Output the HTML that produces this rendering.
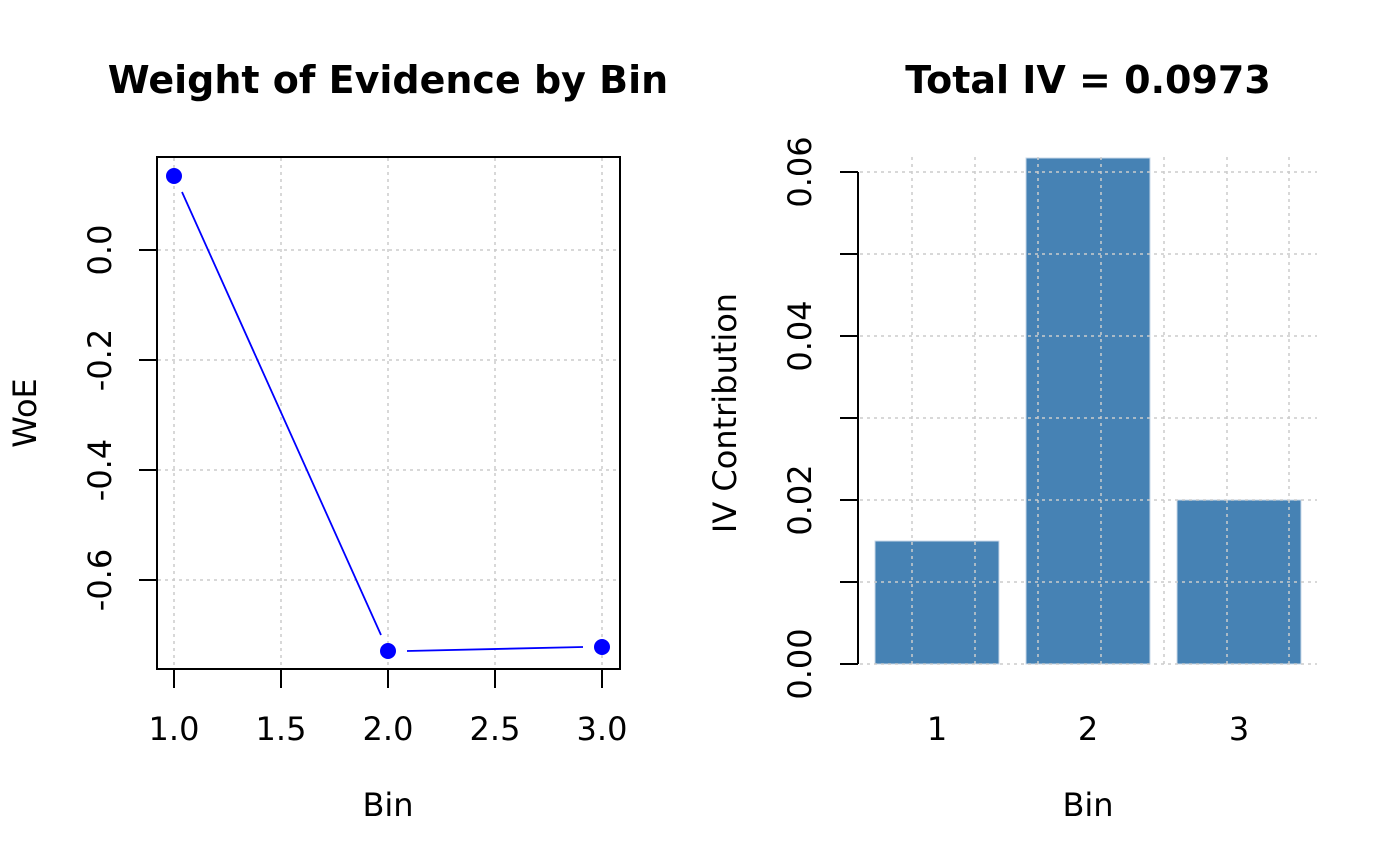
<!DOCTYPE html>
<html><head><style>body{margin:0;background:#fff}svg{display:block}
text{font-family:"DejaVu Sans","Liberation Sans",sans-serif;font-size:32px;fill:#000}
text.t{font-size:38px;font-weight:bold}</style></head>
<body>
<svg width="1400" height="866" viewBox="0 0 1400 866">
<text class="t" x="388" y="93" text-anchor="middle">Weight of Evidence by Bin</text>
<text class="t" x="1088" y="93" text-anchor="middle">Total IV = 0.0973</text>
<g stroke="#ccc" stroke-width="1.5" stroke-dasharray="3,4">
<line x1="174" y1="158" x2="174" y2="668"/><line x1="281" y1="158" x2="281" y2="668"/><line x1="388" y1="158" x2="388" y2="668"/><line x1="495" y1="158" x2="495" y2="668"/><line x1="602" y1="158" x2="602" y2="668"/>
<line x1="158" y1="250" x2="619" y2="250"/><line x1="158" y1="360" x2="619" y2="360"/><line x1="158" y1="470" x2="619" y2="470"/><line x1="158" y1="580" x2="619" y2="580"/>
</g>
<g stroke="#00f" stroke-width="1.8">
<line x1="182" y1="192" x2="381" y2="635"/><line x1="407" y1="651" x2="583" y2="647"/>
</g>
<g fill="#00f"><circle cx="174" cy="176" r="8"/><circle cx="388" cy="651" r="8"/><circle cx="602" cy="647" r="8"/></g>
<rect x="157" y="157" width="463" height="512" fill="none" stroke="#000" stroke-width="2"/>
<g stroke="#000" stroke-width="2">
<line x1="174" y1="669" x2="174" y2="688"/><line x1="281" y1="669" x2="281" y2="688"/><line x1="388" y1="669" x2="388" y2="688"/><line x1="495" y1="669" x2="495" y2="688"/><line x1="602" y1="669" x2="602" y2="688"/>
<line x1="157" y1="250" x2="139" y2="250"/><line x1="157" y1="360" x2="139" y2="360"/><line x1="157" y1="470" x2="139" y2="470"/><line x1="157" y1="580" x2="139" y2="580"/>
</g>
<g text-anchor="middle">
<text x="174" y="740">1.0</text><text x="281" y="740">1.5</text><text x="388" y="740">2.0</text><text x="495" y="740">2.5</text><text x="602" y="740">3.0</text>
<text transform="translate(111,250) rotate(-90)">0.0</text>
<text transform="translate(111,360) rotate(-90)">-0.2</text>
<text transform="translate(111,470) rotate(-90)">-0.4</text>
<text transform="translate(111,580) rotate(-90)">-0.6</text>
<text x="388" y="816">Bin</text>
<text transform="translate(36,413) rotate(-90)">WoE</text>
<text x="1088" y="816">Bin</text>
<text transform="translate(736,413) rotate(-90)">IV Contribution</text>
<text x="937" y="740">1</text><text x="1088" y="740">2</text><text x="1239" y="740">3</text>
<text transform="translate(811,664) rotate(-90)">0.00</text>
<text transform="translate(811,500) rotate(-90)">0.02</text>
<text transform="translate(811,336) rotate(-90)">0.04</text>
<text transform="translate(811,172) rotate(-90)">0.06</text>
</g>
<g fill="#4682B4" stroke="#c8d8e8" stroke-width="1">
<rect x="875" y="541" width="124" height="123"/><rect x="1026" y="158" width="124" height="506"/><rect x="1177" y="500" width="124" height="164"/>
</g>
<g stroke="#ccc" stroke-width="1.5" stroke-dasharray="3,4">
<line x1="912" y1="157" x2="912" y2="665"/><line x1="975" y1="157" x2="975" y2="665"/><line x1="1038" y1="157" x2="1038" y2="665"/><line x1="1101" y1="157" x2="1101" y2="665"/><line x1="1164" y1="157" x2="1164" y2="665"/><line x1="1227" y1="157" x2="1227" y2="665"/><line x1="1289" y1="157" x2="1289" y2="665"/>
<line x1="860" y1="172" x2="1317" y2="172"/><line x1="860" y1="254" x2="1317" y2="254"/><line x1="860" y1="336" x2="1317" y2="336"/><line x1="860" y1="418" x2="1317" y2="418"/><line x1="860" y1="500" x2="1317" y2="500"/><line x1="860" y1="582" x2="1317" y2="582"/><line x1="860" y1="664" x2="1317" y2="664"/>
</g>
<g stroke="#000" stroke-width="2">
<line x1="858" y1="172" x2="858" y2="664"/>
<line x1="840" y1="172" x2="858" y2="172"/><line x1="840" y1="254" x2="858" y2="254"/><line x1="840" y1="336" x2="858" y2="336"/><line x1="840" y1="418" x2="858" y2="418"/><line x1="840" y1="500" x2="858" y2="500"/><line x1="840" y1="582" x2="858" y2="582"/><line x1="840" y1="664" x2="858" y2="664"/>
</g>
</svg>
</body></html>
